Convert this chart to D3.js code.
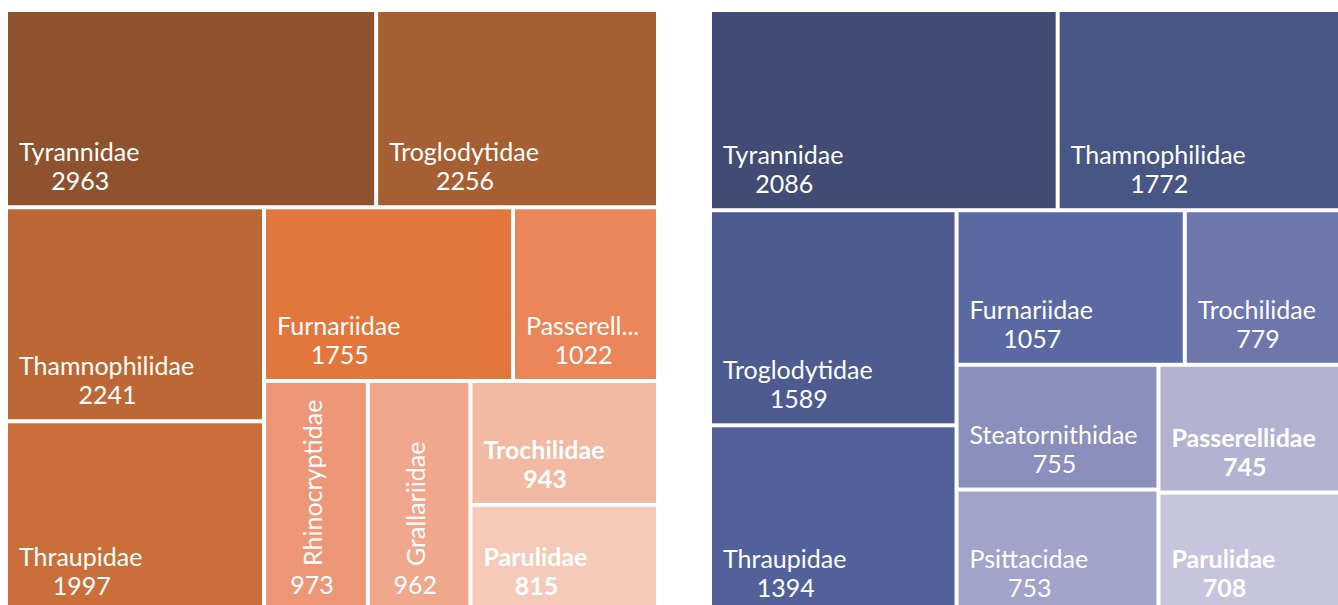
<!DOCTYPE html>
<html>
<head>
<meta charset="utf-8">
<script src="https://cdn.jsdelivr.net/npm/d3@7"></script>
<style>
  body { margin: 0; background: #fff; }
  svg { display: block; }
  .lbl { fill: #fff; font-family: Lato, "Open Sans", sans-serif; font-size: 25px; }
</style>
</head>
<body>
<div id="chart"></div>
<script>
// bird families and record counts
const leftFamilies = ["Tyrannidae", "Troglodytidae", "Thamnophilidae", "Thraupidae", "Furnariidae",
                      "Passerellidae", "Rhinocryptidae", "Grallariidae", "Trochilidae", "Parulidae"];
const leftCounts = [2963, 2256, 2241, 1997, 1755, 1022, 973, 962, 943, 815];
const leftColors = ["#8e532e", "#a65f33", "#bc6836", "#ca6f3a", "#e2773e",
                    "#ea8659", "#ee9778", "#f1a78b", "#f2b9a3", "#f5cab9"];
const leftBold = ["Trochilidae", "Parulidae"];

const rightFamilies = ["Tyrannidae", "Thamnophilidae", "Troglodytidae", "Thraupidae", "Furnariidae",
                       "Trochilidae", "Steatornithidae", "Psittacidae", "Passerellidae", "Parulidae"];
const rightCounts = [2086, 1772, 1589, 1394, 1057, 779, 755, 753, 745, 708];
const rightColors = ["#404c73", "#475684", "#4d5b90", "#526199", "#5b69a3",
                     "#6d77ab", "#8a8fbd", "#a1a3c9", "#b3b3d1", "#c6c5dd"];
const rightBold = ["Passerellidae", "Parulidae"];

// how the squarified strips were laid out (items per strip, H = row on top, V = column on left)
const leftStrips = [2, 2, 2, 1, 1, 2], leftOrient = "HVHVVV";
const rightStrips = [2, 2, 2, 2, 2], rightOrient = "HVHVV";

const W = 1338, H = 605;
const svg = d3.select("#chart").append("svg")
    .attr("width", W)
    .attr("height", H);

function stripTile(strips, orient) {
    return function(parent, x0, y0, x1, y1) {
        const nodes = parent.children;
        let total = parent.value, i = 0;
        strips.forEach((n, k) => {
            const kids = nodes.slice(i, i + n);
            const row = { children: kids, value: d3.sum(kids, d => d.value) };
            if (orient[k] === "H") {
                const yb = y0 + (y1 - y0) * row.value / total;
                d3.treemapDice(row, x0, y0, x1, yb);
                y0 = yb;
            } else {
                const xb = x0 + (x1 - x0) * row.value / total;
                d3.treemapSlice(row, x0, y0, xb, y1);
                x0 = xb;
            }
            total -= row.value;
            i += n;
        });
    };
}

function drawTreemap(names, counts, colors, bold, strips, orient, x, y, w, h) {
    const root = d3.hierarchy({ children: names.map((n, i) => ({ name: n, value: counts[i], color: colors[i] })) })
        .sum(d => d.value || 0);

    d3.treemap()
        .tile(stripTile(strips, orient))
        .size([w, h])
        .paddingInner(4)(root);

    const g = svg.append("g").attr("transform", `translate(${x},${y})`);

    const cell = g.selectAll("g.cell")
        .data(root.leaves())
        .join("g")
        .attr("class", "cell")
        .attr("transform", d => `translate(${d.x0},${d.y0})`);

    cell.append("rect")
        .attr("width", d => d.x1 - d.x0)
        .attr("height", d => d.y1 - d.y0)
        .attr("fill", d => d.data.color);

    cell.each(function(d) {
        const c = d3.select(this);
        const cw = d.x1 - d.x0, ch = d.y1 - d.y0;
        const weight = bold.includes(d.data.name) ? "bold" : "normal";
        const vertical = ch > cw * 1.8;

        if (vertical) {
            c.append("text")
                .attr("class", "lbl")
                .attr("transform", `translate(${cw / 2 + 6},${ch - 44}) rotate(-90)`)
                .style("font-weight", weight)
                .text(d.data.name);
            c.append("text")
                .attr("class", "lbl")
                .attr("x", cw / 2 - 4)
                .attr("y", ch - 16)
                .attr("text-anchor", "middle")
                .style("font-weight", weight)
                .text(d.data.value);
            return;
        }

        const name = c.append("text")
            .attr("class", "lbl")
            .attr("x", 11)
            .attr("y", ch - 44)
            .style("font-weight", weight)
            .text(d.data.name);

        // excel cuts long names with an ellipsis
        let txt = d.data.name;
        while (name.node().getComputedTextLength() > cw - 26 && txt.length > 1) {
            txt = txt.slice(0, -1);
            name.text(txt + "...");
        }
        const nw = name.node().getComputedTextLength();

        c.append("text")
            .attr("class", "lbl")
            .attr("x", 12 + nw / 2)
            .attr("y", ch - 15)
            .attr("text-anchor", "middle")
            .style("font-weight", weight)
            .text(d.data.value);
    });
}

drawTreemap(leftFamilies, leftCounts, leftColors, leftBold, leftStrips, leftOrient, 8, 12, 648, 598);
drawTreemap(rightFamilies, rightCounts, rightColors, rightBold, rightStrips, rightOrient, 712, 12, 639, 600);
</script>
</body>
</html>
